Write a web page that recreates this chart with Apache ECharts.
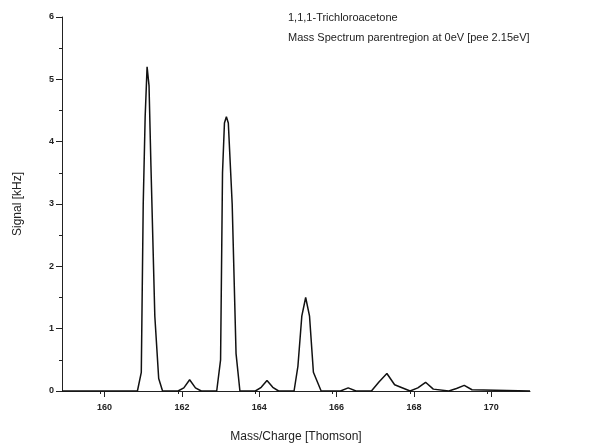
<!DOCTYPE html><html><head><meta charset="utf-8"><script src="https://cdn.jsdelivr.net/npm/echarts@6/dist/echarts.min.js"></script></head><body style="margin:0;background:#fff"><div id="c" style="width:591px;height:448px"></div><script>
const massValues=[158.9,160.6,160.85,160.95,161.0,161.05,161.1,161.15,161.2,161.3,161.4,161.5,161.9,162.05,162.2,162.35,162.5,162.9,163.0,163.05,163.1,163.15,163.2,163.3,163.4,163.5,163.9,164.05,164.2,164.35,164.5,164.9,165.0,165.1,165.2,165.3,165.4,165.6,166.1,166.3,166.5,166.9,167.1,167.3,167.5,167.9,168.1,168.3,168.5,168.9,169.1,169.3,169.5,171];
const signalValues=[0,0,0,0.3,3.0,4.4,5.2,4.9,3.6,1.2,0.2,0,0,0.05,0.18,0.05,0,0,0.5,3.5,4.3,4.4,4.3,3.0,0.6,0,0,0.06,0.17,0.06,0,0,0.4,1.2,1.5,1.2,0.3,0,0,0.05,0,0,0.15,0.28,0.1,0,0.05,0.14,0.03,0,0.04,0.09,0.02,0];
const titleLines=["1,1,1-Trichloroacetone","Mass Spectrum parentregion at 0eV [pee 2.15eV]"];
const F='"Liberation Sans",Arial,sans-serif';
echarts.init(document.getElementById('c')).setOption({animation:false,
grid:{left:62,right:61,top:17,bottom:57},
graphic:titleLines.map((t,i)=>({type:'text',left:288,top:12+i*20,style:{text:t,font:'11px '+F,fill:'#222'}})),
xAxis:{type:'value',min:158.9,max:171,interval:2,name:'Mass/Charge [Thomson]',nameLocation:'middle',nameGap:40,nameTextStyle:{fontFamily:F,fontSize:12,color:'#222'},
axisLine:{lineStyle:{color:'#222'}},splitLine:{show:false},
axisLabel:{fontFamily:F,fontSize:9,color:'#222',fontWeight:'bold',margin:12,customValues:[160,162,164,166,168,170]},axisTick:{customValues:[160,162,164,166,168,170],length:6,lineStyle:{color:'#222'}},
minorTick:{show:true,splitNumber:2,length:3}},
yAxis:{type:'value',min:0,max:6,interval:1,name:'Signal [kHz]',nameLocation:'middle',nameGap:38,nameTextStyle:{fontFamily:F,fontSize:12,color:'#222'},
axisLine:{show:true,lineStyle:{color:'#222'}},axisTick:{show:true,length:6,lineStyle:{color:'#222'}},splitLine:{show:false},minorTick:{show:true,splitNumber:2,length:3},
axisLabel:{fontFamily:F,fontSize:9,color:'#222',fontWeight:'bold'}},
series:[{type:'line',data:massValues.map((m,i)=>[m,signalValues[i]]),showSymbol:false,lineStyle:{color:'#111',width:1.5}}]});
</script></body></html>
